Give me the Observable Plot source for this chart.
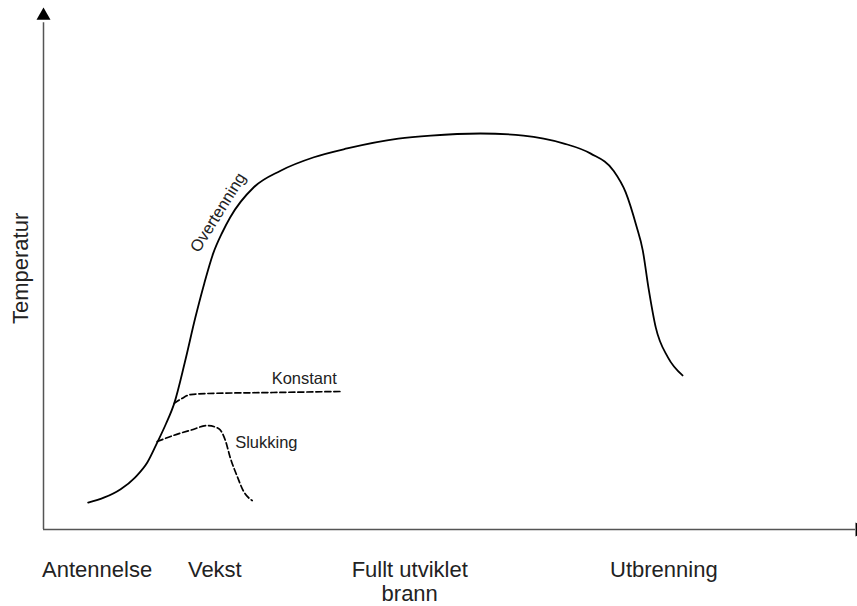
<!DOCTYPE html>
<html>
<head>
<meta charset="utf-8">
<script src="https://cdn.jsdelivr.net/npm/d3@7"></script>
<script src="https://cdn.jsdelivr.net/npm/@observablehq/plot@0.6"></script>
<style>
  html, body { margin: 0; padding: 0; background: #fff; overflow: hidden; }
  #chart svg { display: block; }
</style>
</head>
<body>
<div id="chart"></div>
<script>
// Main fire-development curve (time units 0-100, temperature units 0-100)
const mainX = [5.5, 7.5, 9.5, 11.3, 12.8, 14.0, 15.1, 16.1, 17.4, 18.7, 19.8, 20.9, 22.0, 23.0, 25.9, 29.2, 33.3, 37.4, 43.7, 47.7, 53.8, 59.1, 64.0, 67.4, 70.2, 71.7, 73.0, 73.8, 74.5, 75.4, 76.9, 78.7];
const mainY = [5.2, 6.2, 7.8, 10.1, 13.0, 16.8, 20.5, 24.4, 32.3, 41.0, 47.6, 53.4, 57.4, 60.4, 66.2, 69.4, 72.0, 73.7, 75.6, 76.2, 76.6, 76.2, 74.7, 72.7, 69.4, 65.2, 58.8, 54.0, 46.8, 39.1, 33.3, 29.8];
// "Konstant" branch
const konstantX = [16.1, 17.0, 18.1, 20.2, 28.3, 36.8];
const konstantY = [24.4, 25.3, 26.1, 26.3, 26.5, 26.7];
// "Slukking" branch
const slukkingX = [14.0, 16.0, 18.1, 20.2, 21.6, 22.4, 23.0, 23.9, 24.6, 25.7];
const slukkingY = [17.0, 18.2, 19.2, 20.1, 19.5, 17.2, 13.9, 10.1, 7.5, 5.6];
// Stage labels along the time axis
const stageLabels = ["Antennelse", "Vekst", "Fullt utviklet\nbrann", "Utbrenning"];
const stagePos = [6.6, 21.1, 45.1, 76.4];
// Curve annotations
const curveLabels = ["Konstant", "Slukking"];
const curveLabelX = [28.1, 23.6];
const curveLabelY = [29.2, 16.8];
const overLabel = ["Overtenning"];
const overX = [21.5];
const overY = [61.3];
const yLabel = ["Temperatur"];

const mainData = mainX.map((x, i) => ({x, y: mainY[i]}));
const konstantData = konstantX.map((x, i) => ({x, y: konstantY[i]}));
const slukkingData = slukkingX.map((x, i) => ({x, y: slukkingY[i]}));
const stageData = stageLabels.map((t, i) => ({t, x: stagePos[i]}));
const curveLabelData = curveLabels.map((t, i) => ({t, x: curveLabelX[i], y: curveLabelY[i]}));

const font = "Liberation Sans, Arial, Helvetica, sans-serif";

const chart = Plot.plot({
  width: 857,
  height: 606,
  marginLeft: 43,
  marginRight: 2,
  marginTop: 12,
  marginBottom: 77,
  style: {background: "#fff", fontFamily: font, color: "#222"},
  x: {domain: [0, 100], axis: null},
  y: {domain: [0, 100], axis: null},
  marks: [
    // axes
    Plot.ruleY([0], {x1: 0, x2: 100, stroke: "#555", strokeWidth: 1.5}),
    Plot.ruleX([0], {y1: 0, y2: 98, stroke: "#555", strokeWidth: 1.5}),
    Plot.dot([{x: 0, y: 99.4}], {x: "x", y: "y", symbol: "triangle", r: 5.2, fill: "#000", stroke: null}),
    Plot.dot([{x: 100.5, y: 0}], {x: "x", y: "y", symbol: "triangle", r: 5.2, fill: "#000", stroke: null, rotate: 90}),
    // curves
    Plot.line(mainData, {x: "x", y: "y", curve: "monotone-x", stroke: "#000", strokeWidth: 1.8}),
    Plot.line(konstantData, {x: "x", y: "y", curve: "monotone-x", stroke: "#000", strokeWidth: 1.7, strokeDasharray: "6,3"}),
    Plot.line(slukkingData, {x: "x", y: "y", curve: "monotone-x", stroke: "#000", strokeWidth: 1.7, strokeDasharray: "6,3"}),
    // annotations
    Plot.text(curveLabelData, {x: "x", y: "y", text: "t", textAnchor: "start", fontSize: 16.5, fill: "#222"}),
    Plot.text(overLabel, {x: () => overX[0], y: () => overY[0], text: d => d, rotate: -58, fontSize: 16.5, fill: "#222"}),
    // stage labels
    Plot.text(stageData, {x: "x", y: () => 0, text: "t", lineAnchor: "top", dy: 30, lineHeight: 1.1, fontSize: 22, fill: "#222"}),
    // y label
    Plot.text(yLabel, {x: () => -2.8, y: () => 50.5, text: d => d, rotate: -90, fontSize: 22, fill: "#222"})
  ]
});
document.getElementById("chart").append(chart);
</script>
</body>
</html>
